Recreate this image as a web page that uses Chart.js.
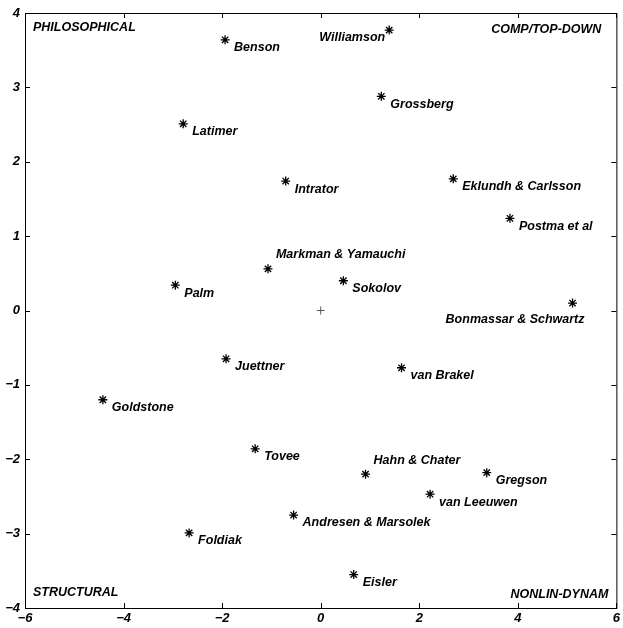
<!DOCTYPE html>
<html>
<head>
<meta charset="utf-8">
<script src="https://cdn.jsdelivr.net/npm/chart.js@4"></script>
<style>
  body { margin: 0; background: #fff; }
  canvas { display: block; }
</style>
</head>
<body>
<canvas id="chart" width="623" height="628"></canvas>
<script>
// Names and positions
const names = [
    'Benson', 'Williamson', 'Grossberg', 'Latimer', 'Intrator',
    'Eklundh & Carlsson', 'Postma et al', 'Markman & Yamauchi', 'Sokolov', 'Palm',
    'Bonmassar & Schwartz', 'Juettner', 'van Brakel', 'Goldstone', 'Tovee',
    'Hahn & Chater', 'Gregson', 'van Leeuwen', 'Andresen & Marsolek', 'Foldiak',
    'Eisler'
];
const xValues = [
    -1.94, 1.39, 1.23, -2.79, -0.71,
    2.69, 3.84, -1.07, 0.46, -2.95,
    5.11, -1.92, 1.64, -4.42, -1.33,
    0.91, 3.37, 2.22, -0.55, -2.67,
    0.67
];
const yValues = [
    3.64, 3.77, 2.88, 2.51, 1.74,
    1.77, 1.24, 0.56, 0.40, 0.34,
    0.10, -0.65, -0.77, -1.20, -1.86,
    -2.20, -2.18, -2.47, -2.75, -2.99,
    -3.55
];
const origin = [{ x: 0, y: 0 }];
const cornerLabels = ['PHILOSOPHICAL', 'COMP/TOP-DOWN', 'STRUCTURAL', 'NONLIN-DYNAM'];

// Label placement: default is right of and slightly below the star
const labelOffsets = {
    'Williamson': { dx: -4, dy: 7, align: 'right' },
    'Markman & Yamauchi': { dx: 8, dy: -14, align: 'left' },
    'Bonmassar & Schwartz': { dx: 12, dy: 16, align: 'right' },
    'Hahn & Chater': { dx: 8, dy: -14, align: 'left' }
};

const fontFamily = '"Liberation Sans", Arial, sans-serif';
const labelFont = 'bold italic 12.5px ' + fontFamily;

const points = names.map((n, i) => ({ x: xValues[i], y: yValues[i], name: n }));

// Draws frame, inward ticks, point labels and corner labels
const annotate = {
    id: 'annotate',
    afterDatasetsDraw(chart) {
        const ctx = chart.ctx;
        const area = chart.chartArea;
        const xs = chart.scales.x;
        const ys = chart.scales.y;
        ctx.save();
        ctx.strokeStyle = '#000';
        ctx.lineWidth = 1;
        ctx.strokeRect(area.left + 0.5, area.top + 0.5, area.right - area.left, area.bottom - area.top);

        ctx.beginPath();
        xs.ticks.forEach((t) => {
            const px = Math.round(xs.getPixelForValue(t.value)) + 0.5;
            ctx.moveTo(px, area.bottom);
            ctx.lineTo(px, area.bottom - 5);
            ctx.moveTo(px, area.top);
            ctx.lineTo(px, area.top + 5);
        });
        ys.ticks.forEach((t) => {
            const py = Math.round(ys.getPixelForValue(t.value)) + 0.5;
            ctx.moveTo(area.left, py);
            ctx.lineTo(area.left + 5, py);
            ctx.moveTo(area.right, py);
            ctx.lineTo(area.right - 5, py);
        });
        ctx.stroke();

        ctx.fillStyle = '#000';
        ctx.font = labelFont;
        ctx.textBaseline = 'middle';
        points.forEach((p) => {
            const off = labelOffsets[p.name] || { dx: 9, dy: 8, align: 'left' };
            ctx.textAlign = off.align;
            ctx.fillText(p.name, xs.getPixelForValue(p.x) + off.dx, ys.getPixelForValue(p.y) + off.dy);
        });

        ctx.textAlign = 'left';
        ctx.fillText(cornerLabels[0], area.left + 8, area.top + 15);
        ctx.fillText(cornerLabels[2], area.left + 8, area.bottom - 15);
        ctx.textAlign = 'right';
        ctx.fillText(cornerLabels[1], area.right - 15, area.top + 17);
        ctx.fillText(cornerLabels[3], area.right - 8, area.bottom - 13);
        ctx.restore();
    }
};

const tickFont = { family: fontFamily, size: 13, style: 'italic', weight: 'bold' };
const minusSign = (v) => String(v).replace('-', '\u2212');

new Chart(document.getElementById('chart'), {
    type: 'scatter',
    data: {
        datasets: [
            {
                data: points,
                pointStyle: 'star',
                radius: 4.5,
                borderColor: '#000',
                backgroundColor: '#000',
                borderWidth: 1.3
            },
            {
                data: origin,
                pointStyle: 'cross',
                radius: 4,
                borderColor: '#333',
                borderWidth: 0.8
            }
        ]
    },
    options: {
        responsive: false,
        animation: false,
        events: [],
        layout: { padding: { top: 13, right: 0, left: 0, bottom: 0 } },
        plugins: {
            legend: { display: false },
            tooltip: { enabled: false }
        },
        scales: {
            x: {
                min: -6,
                max: 6,
                ticks: {
                    stepSize: 2,
                    color: '#000',
                    padding: 3,
                    maxRotation: 0,
                    font: tickFont,
                    callback: minusSign
                },
                grid: { display: false, drawTicks: false },
                border: { display: false },
                afterFit: (scale) => { scale.height = 20; }
            },
            y: {
                min: -4,
                max: 4,
                ticks: {
                    stepSize: 1,
                    color: '#000',
                    padding: 5,
                    font: tickFont,
                    callback: minusSign
                },
                grid: { display: false, drawTicks: false },
                border: { display: false },
                afterFit: (scale) => { scale.width = 25; }
            }
        }
    },
    plugins: [annotate]
});
</script>
</body>
</html>
